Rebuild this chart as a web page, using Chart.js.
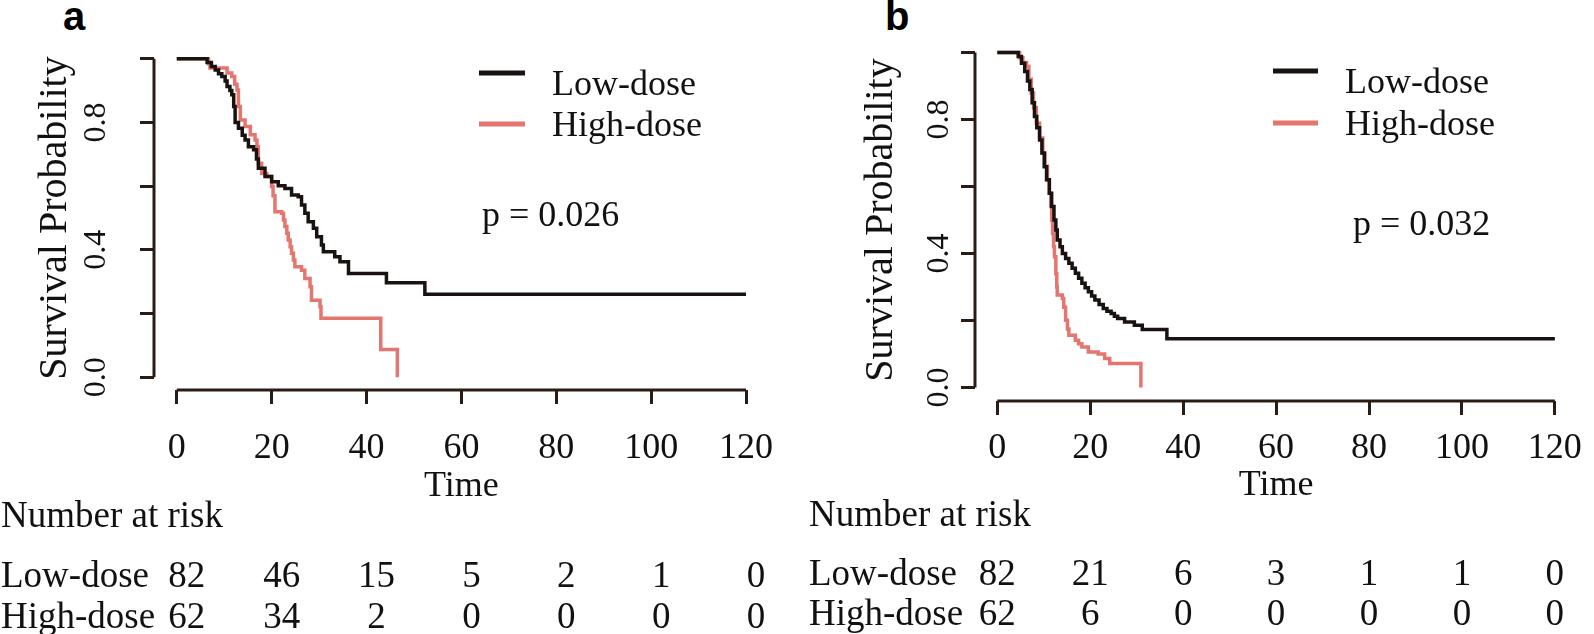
<!DOCTYPE html>
<html>
<head>
<meta charset="utf-8">
<script src="https://cdn.jsdelivr.net/npm/chart.js@4.4.1/dist/chart.umd.min.js"></script>
<style>
  body { margin: 0; background: #fff; width: 1594px; height: 634px; overflow: hidden; position: relative; }
  canvas { position: absolute; top: 0; }
  #panelA { left: 0; }
  #panelB { left: 797px; }
  .tag { position: absolute; font: bold 40px "Liberation Sans", Arial, sans-serif; color: #000; line-height: 1; }
</style>
</head>
<body>
<div class="tag" style="left:63px;top:-4px">a</div>
<div class="tag" style="left:885px;top:-4px">b</div>
<canvas id="panelA" width="797" height="634"></canvas>
<canvas id="panelB" width="797" height="634"></canvas>
<script>
// axis ticks
var xTicks = [0, 20, 40, 60, 80, 100, 120];
var yTicks = [0, 0.2, 0.4, 0.6, 0.8, 1.0];
var yTickText = ['0.0', '', '0.4', '', '0.8', ''];
var seriesNames = ['Low-dose', 'High-dose'];

// panel a - Kaplan-Meier steps (time, survival after the event)
var lowTimeA = [0, 6.4, 7.3, 8.1, 8.8, 9.5, 10.2, 10.6, 11.2, 11.6, 12.0, 12.3, 13.0, 13.8, 14.4, 15.1, 16.2, 16.8, 17.2,
  18.6, 20.0, 21.4, 22.8, 24.2, 25.6, 26.3, 27.0, 27.7, 28.8, 29.5, 30.5, 30.9, 33.3, 34.4, 36.2, 44.2, 52.3, 120];
var lowSurvA = [1.0, 0.988, 0.976, 0.965, 0.953, 0.944, 0.930, 0.913, 0.900, 0.887, 0.850, 0.800, 0.782, 0.760, 0.745, 0.724, 0.714, 0.685, 0.656,
  0.630, 0.614, 0.601, 0.593, 0.572, 0.567, 0.541, 0.515, 0.488, 0.468, 0.441, 0.415, 0.394, 0.378, 0.363, 0.326, 0.297, 0.261, 0.261];
var highTimeA = [0, 6.7, 7.0, 10.6, 11.6, 12.2, 12.7, 13.0, 13.4, 14.4, 15.5, 16.5, 16.9, 17.2, 17.9, 19.0, 20.0, 20.3, 20.7,
  22.1, 22.5, 22.8, 23.2, 23.5, 23.9, 24.2, 24.6, 24.9, 26.3, 27.0, 28.1, 28.4, 30.2, 30.4, 43.0, 46.5];
var highSurvA = [1.0, 0.984, 0.971, 0.955, 0.944, 0.920, 0.902, 0.850, 0.808, 0.787, 0.761, 0.745, 0.724, 0.672, 0.640, 0.630, 0.599, 0.570, 0.520,
  0.515, 0.494, 0.473, 0.452, 0.431, 0.410, 0.389, 0.368, 0.347, 0.336, 0.310, 0.284, 0.242, 0.221, 0.185, 0.087, 0.0];

// panel b
var lowTimeB = [0, 4.5, 5.2, 5.9, 6.5, 7.0, 7.5, 8.0, 8.5, 9.1, 9.6, 10.1, 10.6, 11.2, 11.7, 12.2, 12.6, 12.9, 13.5, 14.0,
  14.7, 15.4, 16.1, 16.8, 17.5, 18.2, 18.9, 19.6, 20.3, 21.0, 21.9, 22.8, 23.6, 24.5, 25.2, 25.9, 27.4, 29.5, 31.2, 36.5, 120];
var lowSurvB = [1.0, 0.988, 0.968, 0.943, 0.915, 0.889, 0.850, 0.809, 0.775, 0.739, 0.700, 0.659, 0.620, 0.580, 0.540, 0.500, 0.470, 0.440, 0.420, 0.400,
  0.385, 0.371, 0.356, 0.341, 0.326, 0.311, 0.298, 0.286, 0.273, 0.261, 0.248, 0.236, 0.228, 0.221, 0.213, 0.206, 0.196, 0.186, 0.173, 0.146, 0.146];
var highTimeB = [0, 4.8, 5.5, 6.3, 6.8, 7.3, 7.8, 8.4, 9.1, 9.8, 10.3, 10.8, 11.2, 11.5, 11.7, 11.9, 12.1, 12.3, 12.6, 12.8, 12.9,
  14.0, 14.3, 14.7, 15.1, 15.4, 16.8, 17.5, 18.2, 19.6, 21.7, 23.1, 24.2, 30.9];
var highSurvB = [1.0, 0.984, 0.970, 0.958, 0.920, 0.879, 0.835, 0.789, 0.745, 0.699, 0.660, 0.620, 0.580, 0.540, 0.500, 0.460, 0.420, 0.390, 0.340, 0.300, 0.276,
  0.266, 0.240, 0.201, 0.175, 0.156, 0.141, 0.131, 0.121, 0.106, 0.100, 0.087, 0.072, 0.0];

// number at risk
var riskTimes = [0, 20, 40, 60, 80, 100, 120];
var riskLowA = [82, 46, 15, 5, 2, 1, 0];
var riskHighA = [62, 34, 2, 0, 0, 0, 0];
var riskLowB = [82, 21, 6, 3, 1, 1, 0];
var riskHighB = [62, 6, 0, 0, 0, 0, 0];

var pTextA = 'p = 0.026';
var pTextB = 'p = 0.032';

var lowColor = '#1a1210';
var highColor = '#e4756f';
var axisColor = '#2a1c14';
var serif = '"Liberation Serif", "Times New Roman", serif';

Chart.defaults.font.family = serif;
Chart.defaults.color = '#111';

function toPoints(ts, ss) {
  return ts.map(function (t, i) { return { x: t, y: ss[i] }; });
}

// R-like decorations: axis lines, legend, p value, risk table
var kmDecor = {
  id: 'kmDecor',
  afterDraw: function (chart) {
    var o = chart.options.plugins.kmDecor;
    var ctx = chart.ctx;
    var x = chart.scales.x, y = chart.scales.y;
    ctx.save();
    ctx.strokeStyle = axisColor;
    ctx.lineWidth = 3;
    ctx.beginPath();
    ctx.moveTo(chart.chartArea.left, y.getPixelForValue(0));
    ctx.lineTo(chart.chartArea.left, y.getPixelForValue(1));
    ctx.moveTo(x.getPixelForValue(0), chart.chartArea.bottom);
    ctx.lineTo(x.getPixelForValue(120), chart.chartArea.bottom);
    ctx.stroke();

    // legend
    ctx.font = '36px ' + serif;
    ctx.fillStyle = '#111';
    ctx.textBaseline = 'alphabetic';
    ctx.textAlign = 'left';
    ctx.lineWidth = 5;
    [lowColor, highColor].forEach(function (c, i) {
      var L = o.legend[i];
      ctx.strokeStyle = c;
      ctx.beginPath();
      ctx.moveTo(L.x1, L.ly);
      ctx.lineTo(L.x2, L.ly);
      ctx.stroke();
      ctx.fillText(seriesNames[i], L.tx, L.ty);
    });

    ctx.fillText(o.pText, o.px, o.py);

    // number at risk table
    ctx.font = '37px ' + serif;
    ctx.textBaseline = 'middle';
    ctx.fillText('Number at risk', o.tableLeft, o.titleY);
    ctx.fillText(seriesNames[0], o.tableLeft, o.rowY[0]);
    ctx.fillText(seriesNames[1], o.tableLeft, o.rowY[1]);
    ctx.textAlign = 'center';
    [o.riskLow, o.riskHigh].forEach(function (row, r) {
      row.forEach(function (n, i) {
        ctx.fillText(String(n), x.getPixelForValue(riskTimes[i]) + o.numShift, o.rowY[r]);
      });
    });
    ctx.restore();
  }
};

function makePanel(id, p) {
  return new Chart(document.getElementById(id), {
    type: 'line',
    data: {
      datasets: [
        { label: seriesNames[0], data: toPoints(p.lowT, p.lowS), borderColor: lowColor, borderWidth: 3.5, stepped: true, pointRadius: 0, fill: false },
        { label: seriesNames[1], data: toPoints(p.highT, p.highS), borderColor: highColor, borderWidth: 3.5, stepped: true, pointRadius: 0, fill: false }
      ]
    },
    options: {
      responsive: false,
      animation: false,
      layout: { padding: { left: 0, right: p.padRight, top: p.padTop, bottom: 0 } },
      scales: {
        x: {
          type: 'linear', min: -4.8, max: 124.8,
          afterBuildTicks: function (s) { s.ticks = xTicks.map(function (v) { return { value: v }; }); },
          afterFit: function (s) { s.height = p.xHeight; },
          border: { display: false },
          grid: { drawOnChartArea: false, drawTicks: true, tickLength: 14, color: axisColor, lineWidth: 3 },
          ticks: { autoSkip: false, maxRotation: 0, padding: p.xTickPad, color: '#111', font: { size: 36 } },
          title: { display: true, text: 'Time', color: '#111', font: { size: 36 }, padding: { top: 0, bottom: p.xTitlePad } }
        },
        y: {
          min: -0.04, max: 1.04,
          afterBuildTicks: function (s) { s.ticks = yTicks.map(function (v) { return { value: v }; }); },
          afterFit: function (s) { s.width = p.yWidth; },
          border: { display: false },
          grid: { drawOnChartArea: false, drawTicks: true, tickLength: 14, color: axisColor, lineWidth: 3 },
          ticks: {
            minRotation: 90, maxRotation: 90, crossAlign: 'center', padding: p.yTickPad, color: '#111', font: { size: 32 },
            callback: function (v, i) { return yTickText[i]; }
          },
          title: { display: true, text: 'Survival Probability', color: '#111', font: { size: 40 }, padding: { top: p.yTitlePad, bottom: 0 } }
        }
      },
      plugins: {
        legend: { display: false },
        tooltip: { enabled: false },
        kmDecor: p.decor
      }
    },
    plugins: [kmDecor]
  });
}

makePanel('panelA', {
  lowT: lowTimeA, lowS: lowSurvA, highT: highTimeA, highS: highSurvA,
  padRight: 27, padTop: 46, xHeight: 244, yWidth: 154,
  xTickPad: 23, xTitlePad: 126, yTickPad: 23, yTitlePad: 31,
  decor: {
    legend: [{ x1: 479, x2: 525, ly: 73, tx: 552, ty: 95 }, { x1: 479, x2: 525, ly: 124, tx: 552, ty: 136 }],
    pText: pTextA, px: 482, py: 226,
    tableLeft: 1, titleY: 517, rowY: [577, 618],
    riskLow: riskLowA, riskHigh: riskHighA, numShift: 10
  }
});

makePanel('panelB', {
  lowT: lowTimeB, lowS: lowSurvB, highT: highTimeB, highS: highSurvB,
  padRight: 4, padTop: 39, xHeight: 233, yWidth: 178,
  xTickPad: 12, xTitlePad: 127, yTickPad: 1, yTitlePad: 60,
  decor: {
    legend: [{ x1: 476, x2: 521, ly: 71, tx: 548, ty: 93 }, { x1: 476, x2: 521, ly: 123, tx: 548, ty: 135 }],
    pText: pTextB, px: 556, py: 235,
    tableLeft: 12, titleY: 516, rowY: [575, 615],
    riskLow: riskLowB, riskHigh: riskHighB, numShift: 0
  }
});
</script>
</body>
</html>
